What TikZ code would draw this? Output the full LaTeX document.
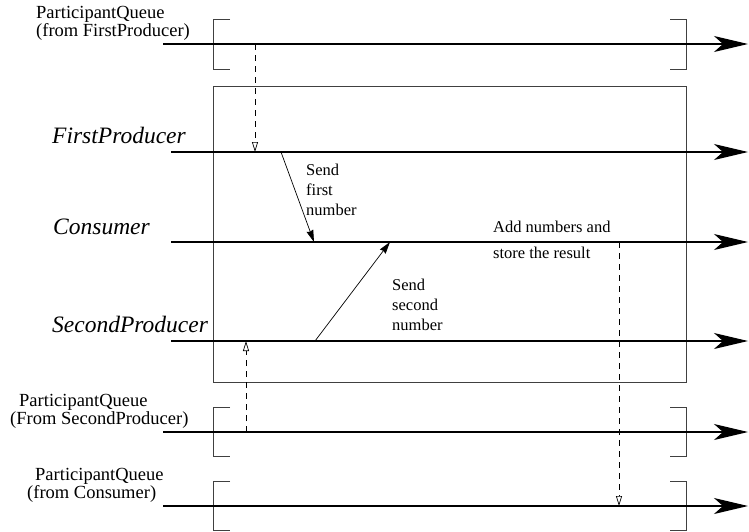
\documentclass[tikz,border=0pt]{standalone}
\usepackage{fontspec}
\setmainfont{Liberation Serif}
\usetikzlibrary{arrows.meta}
\begin{document}
\begin{tikzpicture}[x=1pt,y=-1pt,
  lifeline/.style={line width=1.2pt,-{Stealth[length=34pt,width=16pt,inset=9pt]}},
  frame/.style={draw=black!75,line width=0.8pt},
  msg/.style={line width=0.7pt,-{Stealth[length=12pt,width=7pt,inset=1pt]}},
  sync/.style={line width=0.7pt,dash pattern=on 6pt off 5pt,-{Triangle[open,length=10pt,width=6pt]}},
  qlabel/.style={anchor=north west,inner sep=0pt,align=left,font=\fontsize{18.5}{16.5}\selectfont},
  objlabel/.style={anchor=base west,inner sep=0pt,font=\fontsize{23.5}{26}\selectfont\itshape},
  note/.style={anchor=north west,inner sep=0pt,align=left,font=\fontsize{16.5}{20}\selectfont}]
\useasboundingbox (0,0) rectangle (749,531);

% interaction frame
\draw[frame] (213,86) rectangle (686,382);

% queue brackets
\foreach \t/\b in {19/69, 407/456, 481/530} {
  \draw[frame] (230,\t) -- (213,\t) -- (213,\b) -- (230,\b);
  \draw[frame] (670,\t) -- (686,\t) -- (686,\b) -- (670,\b);
}

% lifeline end points
\coordinate (q1a) at (163,44);  \coordinate (q1b) at (748,44);
\coordinate (fpa) at (171,152); \coordinate (fpb) at (748,152);
\coordinate (coa) at (171,242); \coordinate (cob) at (748,242);
\coordinate (spa) at (171,341); \coordinate (spb) at (748,341);
\coordinate (q2a) at (163,432); \coordinate (q2b) at (748,432);
\coordinate (q3a) at (163,506); \coordinate (q3b) at (748,506);

\draw[lifeline] (q1a) -- (q1b);
\draw[lifeline] (fpa) -- (fpb);
\draw[lifeline] (coa) -- (cob);
\draw[lifeline] (spa) -- (spb);
\draw[lifeline] (q2a) -- (q2b);
\draw[lifeline] (q3a) -- (q3b);

% queue labels
\node[qlabel] (q1t) at (36,6) {ParticipantQueue\\(from FirstProducer)};
\node[qlabel] (q2t) at (10,394) {\hspace{9pt}ParticipantQueue\\(From SecondProducer)};
\node[qlabel] (q3t) at (27,468) {\hspace{8pt}ParticipantQueue\\(from Consumer)};

% object labels
\node[objlabel] (fpl) at (52,143) {FirstProducer};
\node[objlabel] (col) at (53,234) {Consumer};
\node[objlabel] (spl) at (52,332) {SecondProducer};

% synchronisation with the queues
\coordinate (d1a) at (255,44);  \coordinate (d1b) at (255,152);
\coordinate (d2a) at (246,432); \coordinate (d2b) at (246,341);
\coordinate (d3a) at (619,242); \coordinate (d3b) at (619,506);
\draw[sync] (d1a) -- (d1b);
\draw[sync] (d2a) -- (d2b);
\draw[sync] (d3a) -- (d3b);

% messages
\coordinate (m1a) at (281,152); \coordinate (m1b) at (314,242);
\coordinate (m2a) at (315,341); \coordinate (m2b) at (390,242);
\draw[msg] (m1a) -- (m1b);
\draw[msg] (m2a) -- (m2b);

\node[note] (n1) at (306,164) {Send\\first\\number};
\node[note] (n2) at (392,279) {Send\\second\\number};
\node[note] (n3) at (493,221) {Add numbers and\\[6pt]store the result};
\end{tikzpicture}
\end{document}
